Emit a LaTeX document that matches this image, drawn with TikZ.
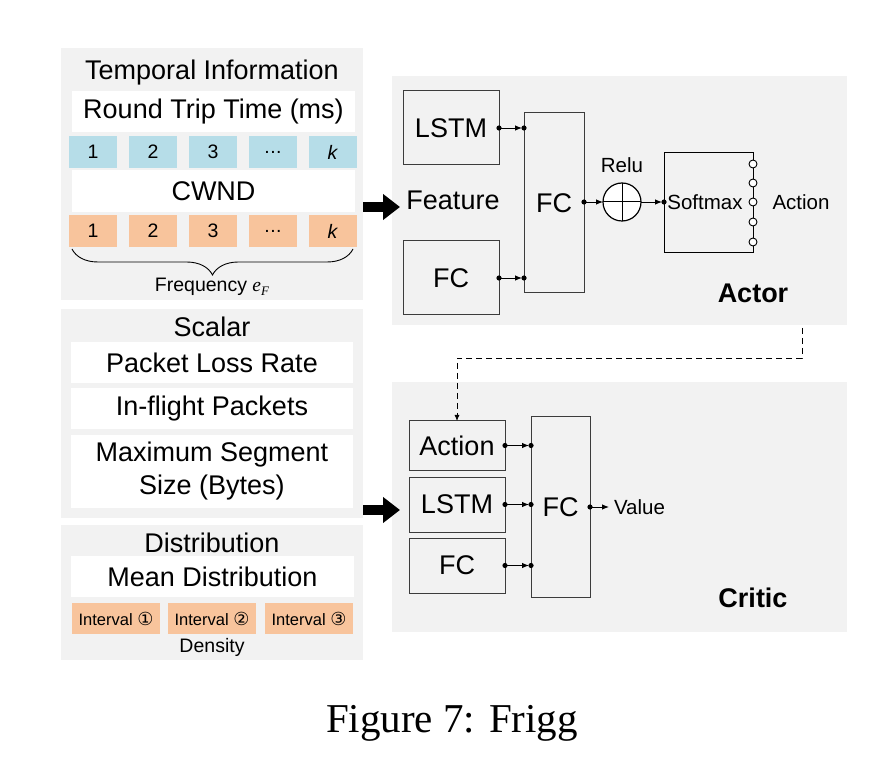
\documentclass[tikz,border=0pt]{standalone}
\usepackage{fontspec}
\setmainfont{Liberation Sans}
\newfontfamily\capserif{Liberation Serif}
\newfontfamily\dvs{DejaVu Sans}
\usetikzlibrary{arrows.meta,decorations.pathreplacing}
\definecolor{panel}{RGB}{242,242,242}
\definecolor{cellblue}{RGB}{182,221,232}
\definecolor{cellorange}{RGB}{248,196,156}
\definecolor{edgec}{RGB}{60,60,60}
\newcommand\fsz[2]{\fontsize{#1}{#2}\selectfont}
\newcommand\mydots{.\kern0.5pt.\kern0.5pt.}
\newcommand\dotconn[2]{\draw[conn] (#1) -- (#2); \fill (#1) circle[radius=2.6pt] (#2) circle[radius=2.6pt];}
\begin{document}
\begin{tikzpicture}[x=1pt,y=-1pt,
  every node/.style={inner sep=0pt,outer sep=0pt},
  panelbg/.style={fill=panel,draw=none},
  wbox/.style={fill=white,draw=none,font=\fsz{27}{33},align=center},
  bcell/.style={fill=cellblue,minimum width=48,minimum height=32,font=\fsz{19.5}{22}},
  ocell/.style={fill=cellorange,minimum width=48,minimum height=32,font=\fsz{19.5}{22}},
  icell/.style={fill=cellorange,minimum width=88,minimum height=31,font=\fsz{16.5}{19}},
  title/.style={font=\fsz{27}{30}},
  small/.style={font=\fsz{19.5}{22}},
  mid/.style={font=\fsz{20.5}{24}},
  nnbox/.style={draw=edgec,line width=1pt,font=\fsz{27}{30}},
  bold/.style={font=\fsz{27}{30}\bfseries},
  conn/.style={line width=0.9pt,-{Latex[length=7pt,width=5.5pt]},shorten >=2pt},
  bigarrow/.style={line width=10pt,-{Triangle[length=17pt,width=25pt]}}
]
\useasboundingbox[fill=white] (0,0) rectangle (895,767);

% ---------- left panels ----------
\node[panelbg,minimum width=302,minimum height=252] (ptemp) at (212,174) {};
\node[panelbg,minimum width=302,minimum height=209] (pscal) at (212,413.5) {};
\node[panelbg,minimum width=302,minimum height=135] (pdist) at (212,592.5) {};

\node[title] (ttemp) at (212,73) {Temporal Information};
\node[wbox,minimum width=283,minimum height=41] (rtt) at (213.5,111.5) {Round Trip Time (ms)};
\node[bcell] (b1) at (93,152) {1};
\node[bcell] (b2) at (153,152) {2};
\node[bcell] (b3) at (213,152) {3};
\node[bcell] (b4) at (273,152) {\mydots};
\node[bcell] (b5) at (333,152) {\textit{k}};
\node[wbox,minimum width=283,minimum height=42] (cwnd) at (213.5,191) {CWND};
\node[ocell] (o1) at (93,231) {1};
\node[ocell] (o2) at (153,231) {2};
\node[ocell] (o3) at (213,231) {3};
\node[ocell] (o4) at (273,231) {\mydots};
\node[ocell] (o5) at (333,231) {\textit{k}};
\coordinate (brl) at (72,249);
\coordinate (brr) at (353,249);
\draw[line width=0.9pt,decorate,decoration={brace,mirror,amplitude=26pt}] (brl) -- (brr);
\node[small] (freq) at (212,287) {Frequency {\capserif\itshape e}\raisebox{-0.35ex}{\fsz{13}{15}\capserif\itshape F}};

\node[title] (tscal) at (212,327) {Scalar};
\node[wbox,minimum width=282,minimum height=41] (plr) at (212,362.5) {Packet Loss Rate};
\node[wbox,minimum width=282,minimum height=41] (ifp) at (212,408.5) {In-flight Packets};
\node[wbox,minimum width=282,minimum height=73] (mss) at (212,471.5) {Maximum Segment\\Size (Bytes)};

\node[title] (tdist) at (212,543) {Distribution};
\node[wbox,minimum width=283,minimum height=41] (mean) at (212.5,576.5) {Mean Distribution};
\node[icell] (i1) at (116,618.5) {Interval {\dvs\fsz{18}{19}①}};
\node[icell] (i2) at (212,618.5) {Interval {\dvs\fsz{18}{19}②}};
\node[icell] (i3) at (309,618.5) {Interval {\dvs\fsz{18}{19}③}};
\node[small] (dens) at (212,647) {Density};

% ---------- actor ----------
\node[panelbg,minimum width=455,minimum height=249] (pactor) at (619.5,200.5) {};
\node[nnbox,minimum width=96,minimum height=74] (alstm) at (451,128) {LSTM};
\node[nnbox,minimum width=96,minimum height=74] (afc1) at (451,278) {FC};
\node[title] (feat) at (453,200) {Feature};
\node[nnbox,minimum width=60,minimum height=180] (afc) at (554,203) {FC};
\node[draw=black,line width=1.2pt,fill=white,circle,minimum size=38] (relu) at (622,202) {};
\draw[line width=1pt] (relu.north) -- (relu.south) (relu.west) -- (relu.east);
\node[mid] (relulab) at (622,165) {Relu};
\node[draw=black,line width=1pt,minimum width=89,minimum height=100] (smax) at (708.5,203) {};
\node[mid] (smaxlab) at (705,202) {Softmax};
\foreach \yy in {164,183,202,222,242}
  \draw[line width=0.9pt,fill=white] (smax.east |- 0,\yy) circle[radius=4pt];
\node[mid] (aact) at (801,202) {Action};
\node[bold] (actor) at (753,293) {Actor};

\dotconn{alstm.east}{afc.west |- alstm.east}
\dotconn{afc1.east}{afc.west |- afc1.east}
\draw[line width=0.9pt,-{Latex[length=7pt,width=5.5pt]}] (afc.east |- relu.west) -- (relu.west);
\fill (afc.east |- relu.west) circle[radius=2.6pt];
\draw[conn] (relu.east) -- (smax.west |- relu.east);
\fill (smax.west |- relu.east) circle[radius=2.6pt];

% ---------- critic ----------
\node[panelbg,minimum width=455,minimum height=250] (pcritic) at (619.5,507) {};
\node[nnbox,minimum width=96,minimum height=49] (cact) at (457,445.5) {Action};
\node[nnbox,minimum width=96,minimum height=55] (clstm) at (457,504.5) {LSTM};
\node[nnbox,minimum width=96,minimum height=55] (cfc1) at (457,565.5) {FC};
\node[nnbox,minimum width=59,minimum height=180] (cfc) at (560.5,507) {FC};
\node[mid,anchor=west] (val) at (614,507) {Value};
\node[bold] (critic) at (753,598) {Critic};

\dotconn{cact.east}{cfc.west |- cact.east}
\dotconn{clstm.east}{cfc.west |- clstm.east}
\dotconn{cfc1.east}{cfc.west |- cfc1.east}
\draw[line width=0.9pt,-{Latex[length=7pt,width=5.5pt]},shorten >=5pt] (cfc.east) -- (val.west);
\fill (cfc.east) circle[radius=2.6pt];

% ---------- dashed feedback ----------
\coordinate (dstart) at (802,328);
\coordinate (dturn) at (802,358);
\draw[line width=0.8pt,dash pattern=on 6pt off 4pt,-{Latex[length=6pt,width=5pt]}] (dstart) -- (dturn) -| (cact.north);

% ---------- big arrows ----------
\coordinate (a1s) at (363,207);
\coordinate (a1e) at (400,207);
\coordinate (a2s) at (363,510);
\coordinate (a2e) at (400,510);
\draw[bigarrow] (a1s) -- (a1e);
\draw[bigarrow] (a2s) -- (a2e);

% ---------- caption ----------
\node[font=\capserif\fsz{41}{48}] (cap) at (452,723) {Figure 7: Frigg};
\end{tikzpicture}
\end{document}
